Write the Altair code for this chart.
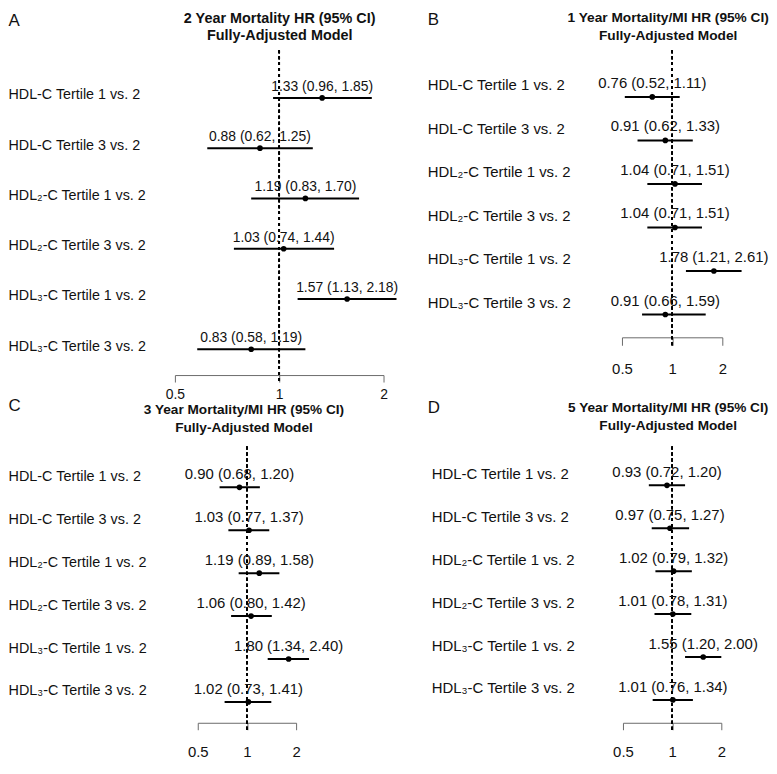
import altair as alt
import pandas as pd

# ---------------- data ----------------
labels = [
    "HDL-C Tertile 1 vs. 2",
    "HDL-C Tertile 3 vs. 2",
    "HDL₂-C Tertile 1 vs. 2",
    "HDL₂-C Tertile 3 vs. 2",
    "HDL₃-C Tertile 1 vs. 2",
    "HDL₃-C Tertile 3 vs. 2",
]
tick_values = [0.5, 1, 2]

titles_a = ["2 Year Mortality HR (95% CI)", "Fully-Adjusted Model"]
est_a = [1.33, 0.88, 1.19, 1.03, 1.57, 0.83]
lo_a = [0.96, 0.62, 0.83, 0.74, 1.13, 0.58]
hi_a = [1.85, 1.25, 1.70, 1.44, 2.18, 1.19]

titles_b = ["1 Year Mortality/MI HR (95% CI)", "Fully-Adjusted Model"]
est_b = [0.76, 0.91, 1.04, 1.04, 1.78, 0.91]
lo_b = [0.52, 0.62, 0.71, 0.71, 1.21, 0.66]
hi_b = [1.11, 1.33, 1.51, 1.51, 2.61, 1.59]

titles_c = ["3 Year Mortality/MI HR (95% CI)", "Fully-Adjusted Model"]
est_c = [0.90, 1.03, 1.19, 1.06, 1.80, 1.02]
lo_c = [0.68, 0.77, 0.89, 0.80, 1.34, 0.73]
hi_c = [1.20, 1.37, 1.58, 1.42, 2.40, 1.41]

titles_d = ["5 Year Mortality/MI HR (95% CI)", "Fully-Adjusted Model"]
est_d = [0.93, 0.97, 1.02, 1.01, 1.55, 1.01]
lo_d = [0.72, 0.75, 0.79, 0.78, 1.20, 0.76]
hi_d = [1.20, 1.27, 1.32, 1.31, 2.00, 1.34]

FONT = "Liberation Sans"


def panel(letter, titles, est, lo, hi, g):
    df = pd.DataFrame({"label": labels, "est": est, "lo": lo, "hi": hi})
    df["txt"] = [f"{e:.2f} ({l:.2f}, {h:.2f})" for e, l, h in zip(est, lo, hi)]

    xscale = alt.Scale(type="log", domain=[0.5, 2], range=g["xr"], nice=False)
    yscale = alt.Scale(type="point", domain=labels, range=g["yr"], padding=0)
    axis_y_pos = g["H"] + g["xoff"]
    xaxis = alt.Axis(
        values=tick_values, format="~g", grid=False,
        offset=g["xoff"], tickSize=g["tick"], tickColor="#6b6b6b", tickWidth=1,
        domainColor="#6b6b6b", domainWidth=1,
        labelFontSize=g["tickfs"], labelColor="#111111", labelPadding=g["xlabpad"],
        labelFont=FONT, labelFlush=False, labelOverlap=False,
        title=titles, titleFont=FONT, titleFontSize=g["tfs"], titleFontWeight="bold",
        titleColor="#111111", titleAlign="center", titleBaseline="top",
        titleLineHeight=g["tlh"], titleX=g["tcx"], titleY=g["ttop"] - axis_y_pos,
    )
    yaxis = alt.Axis(
        ticks=False, tickSize=0, domain=False, grid=False,
        labelAlign="left", labelBaseline="middle", labelPadding=g["ylabpad"],
        labelOffset=g["ylaboff"], labelFontSize=g["labfs"], labelColor="#111111",
        labelFont=FONT, labelLimit=400,
        title=letter, titleAngle=0, titleAlign="left", titleBaseline="top",
        titleX=-g["ylabpad"] + g["letdx"], titleY=g["lettop"], titleFont=FONT,
        titleFontSize=17, titleFontWeight="normal", titleColor="#111111",
    )
    X = lambda f: alt.X(f, type="quantitative", scale=xscale, axis=xaxis)
    Y = alt.Y("label:N", scale=yscale, axis=yaxis, sort=labels)

    base = alt.Chart(df)
    ref = base.mark_rule(color="black", strokeDash=[3, 3], strokeWidth=1.6).encode(
        x=alt.X(datum=1, type="quantitative", scale=xscale, axis=xaxis)
    )
    ci = base.mark_rule(color="black", strokeWidth=2).encode(x=X("lo"), x2="hi", y=Y)
    pt = base.mark_circle(color="black", size=32, opacity=1).encode(x=X("est"), y=Y)
    tx = base.mark_text(
        font=FONT, fontSize=g["txtfs"], color="#111111", dy=g["dy"],
        align="center", baseline="middle",
    ).encode(x=X("est"), y=Y, text="txt:N")
    return alt.layer(ref, ci, pt, tx).properties(width=g["W"], height=g["H"])


geo_a = dict(W=260, H=334, xr=[28, 238], yr=[48, 301], xoff=-7, tick=7, xlabpad=6,
             tickfs=14, ylabpad=140, ylaboff=-3, labfs=14.4, txtfs=14, dy=-11,
             letdx=0, lettop=-38, tcx=133, ttop=-39, tfs=14.5, tlh=17)
geo_b = dict(W=195, H=297, xr=[48, 149], yr=[47, 266], xoff=-8, tick=8, xlabpad=16,
             tickfs=15, ylabpad=148, ylaboff=-12, labfs=15, txtfs=15, dy=-14,
             letdx=0, lettop=-39, tcx=94, ttop=-40, tfs=13.8, tlh=18)
geo_c = dict(W=260, H=285, xr=[51, 150], yr=[41, 257], xoff=-7, tick=7, xlabpad=15,
             tickfs=15, ylabpad=140, ylaboff=-11, labfs=14.5, txtfs=15, dy=-13,
             letdx=0, lettop=-49, tcx=97, ttop=-44, tfs=13.7, tlh=18)
geo_d = dict(W=195, H=285, xr=[49, 148], yr=[39, 255], xoff=-7, tick=7, xlabpad=15,
             tickfs=15, ylabpad=144, ylaboff=-12, labfs=15, txtfs=15, dy=-13,
             letdx=-4, lettop=-47, tcx=94, ttop=-46, tfs=13.7, tlh=18)

pa = panel("A", titles_a, est_a, lo_a, hi_a, geo_a)
pb = panel("B", titles_b, est_b, lo_b, hi_b, geo_b)
pc = panel("C", titles_c, est_c, lo_c, hi_c, geo_c)
pd_ = panel("D", titles_d, est_d, lo_d, hi_d, geo_d)

chart = (
    alt.concat(pa, pb, pc, pd_, columns=2, spacing={"row": 65, "column": 170},
               bounds="flush", align="each")
    .properties(padding=0, background="white")
    .configure(font=FONT)
    .configure_view(stroke=None)
)

chart.save("out.html", embed_options={"renderer": "svg", "actions": False})
